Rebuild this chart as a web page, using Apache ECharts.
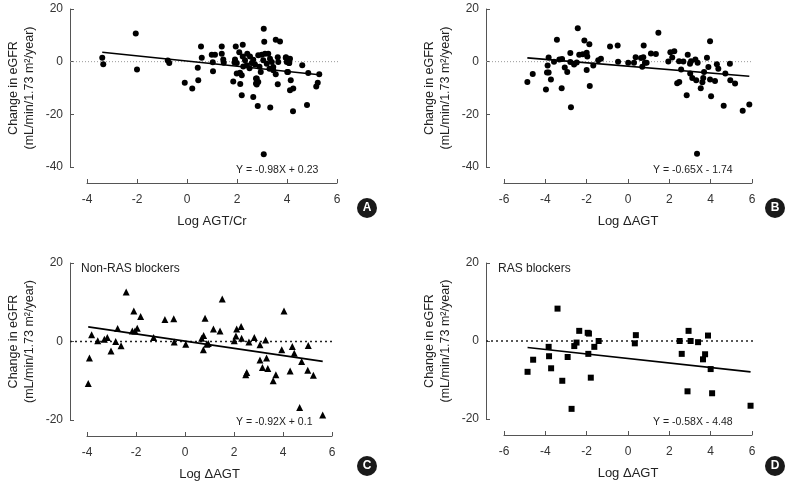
<!DOCTYPE html>
<html>
<head>
<meta charset="utf-8">
<script src="https://cdn.jsdelivr.net/npm/echarts@6/dist/echarts.min.js"></script>
<style>html,body{margin:0;padding:0;background:#fff}#c{width:792px;height:483px}</style>
</head>
<body>
<div id="c"></div>
<script>
// ---- Data ----
const ptsA = [
 [-3.39,1.5],[-3.35,-1.0],[-2.05,10.7],[-2.0,-3.0],[-0.77,0.4],[-0.71,-0.5],[-0.09,-8.0],[0.21,-10.2],
 [0.45,-7.1],[0.43,-2.3],[0.56,5.8],[0.59,1.5],[1.04,-3.6],[0.99,2.6],[1.12,2.6],[1.03,-0.2],
 [1.39,5.8],[1.39,3.0],[1.45,0.8],[1.47,-0.4],[1.95,5.8],[2.23,6.4],[2.09,3.6],[1.85,-7.5],
 [2.13,-8.5],[2.19,-12.8],[2.65,-13.4],[2.83,-16.8],[3.33,-17.4],[3.07,12.5],[3.09,7.6],[3.55,8.3],
 [3.72,7.7],[3.07,-35.2],[2.76,-6.4],[2.76,-8.3],[2.95,-3.9],[3.63,-8.6],[4.04,-3.9],[3.95,1.5],
 [4.08,-0.5],[4.15,-7.1],[4.12,-10.9],[4.25,-10.2],[4.24,-18.8],[4.8,-16.5],[4.61,-1.4],[4.85,-4.3],
 [5.29,-4.8],[5.23,-8.0],[5.17,-9.4],[1.92,0.8],[1.99,-0.5],[2.23,2.0],[2.32,0.5],[2.41,3.0],
 [2.52,2.0],[2.39,-1.4],[2.25,-1.8],[2.59,-0.5],[2.72,-1.1],[2.85,2.4],[2.99,2.6],[3.12,3.0],
 [3.25,3.0],[3.05,0.5],[3.19,-0.8],[3.39,-0.1],[3.32,1.1],[3.45,-2.0],[3.45,-3.3],[1.99,-4.5],
 [2.12,-4.2],[2.19,-5.2],[2.79,-6.4],[2.85,-7.7],[2.79,-8.7],[3.96,1.7],[4.09,-0.5],[3.99,-0.1],
 [4.12,1.1],[4.01,-3.9],[3.63,1.7],[3.65,-0.1],[2.5,-2.5],[2.9,-1.9],[3.3,-2.7],[2.65,0.7],[1.9,-0.3],[3.55,-4.8]
];
const ptsB = [
 [-4.87,-7.7],[-4.61,-4.7],[-3.97,-10.6],[-3.92,-4.1],[-3.84,-4.1],[-3.89,-1.5],[-3.84,1.6],[-3.73,-6.8],
 [-3.58,0.0],[-3.44,8.3],[-3.32,0.8],[-3.19,1.0],[-3.21,-10.1],[-3.06,-2.2],[-2.94,-3.9],[-2.79,-0.1],
 [-2.79,3.3],[-2.76,-17.3],[-2.61,-1.1],[-2.48,-0.3],[-2.43,12.7],[-2.36,2.6],[-2.19,2.8],[-2.11,8.0],
 [-2.0,3.4],[-1.97,2.0],[-2.0,-3.2],[-1.87,6.6],[-1.85,-9.2],[-1.68,-1.5],[-1.44,0.5],[-1.31,1.1],
 [-0.87,5.8],[-0.5,6.1],[-0.48,0.0],[0.01,-0.4],[0.29,-0.4],[0.37,1.7],[0.63,1.4],[0.74,1.7],
 [0.69,-1.9],[0.82,-0.4],[0.9,-0.4],[0.76,6.1],[1.11,3.1],[1.35,2.9],[1.47,11.0],[1.95,0.1],
 [2.05,3.6],[2.14,1.6],[2.24,4.0],[2.38,-8.2],[2.48,-7.7],[2.47,0.2],[2.57,-3.0],[2.68,0.1],
 [2.84,-12.8],[2.89,2.6],[3.0,-0.8],[3.05,0.2],[3.01,-4.5],[3.11,-6.2],[3.26,0.8],[3.3,-7.1],
 [3.37,-0.4],[3.34,-35.0],[3.52,-10.1],[3.6,-7.8],[3.68,-3.9],[3.64,-6.2],[3.82,1.5],[3.89,-2.0],
 [3.97,7.8],[3.97,-6.8],[4.02,-13.1],[4.21,-7.3],[4.3,-1.0],[4.37,-2.7],[4.63,-16.7],[4.71,-4.5],
 [4.93,-0.8],[4.95,-7.1],[5.18,-8.3],[5.55,-18.6],[5.87,-16.3]
];
const ptsC = [
 [-3.81,1.7],[-3.56,0.2],[-3.9,-4.2],[-3.95,-10.7],[-3.29,0.6],[-3.17,1.0],[-3.02,-2.4],[-2.83,0.0],
 [-2.61,-1.1],[-2.75,3.3],[-2.4,12.6],[-2.09,7.8],[-1.81,6.4],[-2.15,2.7],[-2.04,2.7],[-1.95,3.4],
 [-1.28,1.0],[-0.82,5.6],[-0.46,5.8],[-0.44,-0.1],[0.03,-0.7],[0.82,5.9],[0.68,0.8],[0.76,1.5],
 [0.75,-2.1],[0.89,-0.7],[1.52,10.8],[1.16,3.2],[1.43,2.7],[0.95,-0.5],[2.11,3.2],[2.29,3.8],
 [2.08,1.4],[2.01,0.2],[2.31,0.8],[2.61,-0.1],[2.83,1.0],[3.06,-0.8],[3.29,0.4],[4.04,7.8],
 [3.95,-2.1],[4.38,-1.3],[5.03,-1.0],[4.46,-3.0],[3.06,-4.7],[3.33,-4.2],[3.16,-6.6],[3.38,-6.9],
 [2.48,-8.5],[2.52,-7.9],[3.71,-8.5],[3.6,-10.0],[4.29,-7.5],[4.76,-5.1],[5.01,-7.3],[5.24,-8.6],
 [4.68,-16.8],[5.62,-18.7]
];
const ptsD = [
 [-4.86,-7.9],[-4.59,-4.8],[-3.84,-1.5],[-3.82,-3.9],[-3.72,-7.0],[-3.41,8.3],[-3.18,-10.2],[-2.92,-4.1],
 [-2.73,-17.4],[-2.6,-1.3],[-2.49,-0.4],[-2.36,2.6],[-1.95,2.1],[-1.89,1.9],[-1.92,-3.3],[-1.8,-9.4],
 [-1.63,-1.5],[-1.42,0.0],[0.38,1.5],[0.33,-0.6],[2.5,0.0],[2.6,-3.3],[2.88,-12.9],[2.93,2.6],
 [3.03,0.0],[3.39,-0.3],[3.63,-4.7],[3.73,-3.4],[3.87,1.4],[4.0,-7.2],[4.07,-13.4],[5.93,-16.6]
];
// regression line end points (as drawn)
const regA = [[-3.39,3.55],[5.29,-4.95]];
const regB = [[-4.87,1.43],[5.87,-5.56]];
const regC = [[-3.95,3.73],[5.62,-5.07]];
const regD = [[-4.86,-1.66],[5.93,-7.92]];
const eqA = 'Y = -0.98X + 0.23', eqB = 'Y = -0.65X - 1.74', eqC = 'Y = -0.92X + 0.1', eqD = 'Y = -0.58X - 4.48';
const xNameA = 'Log AGT/Cr', xNameB = 'Log \u0394AGT';
const yName = 'Change in eGFR\n(mL/min/1.73 m\u00B2/year)';
const groupC = 'Non-RAS blockers', groupD = 'RAS blockers';

const FONT = "'Liberation Sans Narrow','Arial Narrow','Liberation Sans',sans-serif";
const panels = [
 {g:{left:87,top:9,width:250,height:158}, zl:{left:70,width:268}, yOff:17, x:[-4,6], y:[-40,20], pts:ptsA, reg:regA, sym:'circle', size:6, xName:xNameA, zeroStyle:{color:'#999',width:1,type:[1,2]}},
 {g:{left:504,top:9,width:248,height:158}, zl:{left:486,width:266}, yOff:18, x:[-6,6], y:[-40,20], pts:ptsB, reg:regB, sym:'circle', size:6, xName:xNameB, zeroStyle:{color:'#999',width:1,type:[1,2]}},
 {g:{left:87,top:263,width:245,height:157}, zl:{left:70,width:265}, yOff:17, x:[-4,6], y:[-20,20], pts:ptsC, reg:regC, sym:'triangle', size:7, xName:xNameB, zeroStyle:{color:'#222',width:1.5,type:[2,3]}},
 {g:{left:504,top:263,width:248,height:156}, zl:{left:486,width:267}, yOff:18, x:[-6,6], y:[-20,20], pts:ptsD, reg:regD, sym:'rect', size:6, xName:xNameB, zeroStyle:{color:'#222',width:1.5,type:[2,3]}}
];

const grid=[], xAxis=[], yAxis=[], series=[];
const axisCol = '#555', txtCol = '#333';
panels.forEach((p,i)=>{
  grid.push(Object.assign({}, p.g));
  const gi = grid.length-1;
  xAxis.push({type:'value', gridIndex:gi, min:p.x[0], max:p.x[1], interval:2, offset:16,
    axisLine:{show:true,onZero:false,lineStyle:{color:axisCol,width:1}}, axisTick:{show:true,inside:true,length:4,lineStyle:{color:axisCol}},
    axisLabel:{color:txtCol,fontSize:12,fontFamily:FONT,margin:11}, splitLine:{show:false},
    name:p.xName, nameLocation:'middle', nameGap:32, nameTextStyle:{color:'#222',fontSize:13,fontFamily:FONT}});
  yAxis.push({type:'value', gridIndex:gi, min:p.y[0], max:p.y[1], interval:20, offset:p.yOff,
    axisLine:{show:true,onZero:false,lineStyle:{color:axisCol,width:1}}, axisTick:{show:true,inside:true,length:4,lineStyle:{color:axisCol}},
    axisLabel:{color:txtCol,fontSize:12,fontFamily:FONT,margin:7}, splitLine:{show:false},
    name:yName, nameLocation:'middle', nameGap:32, nameRotate:90,
    nameTextStyle:{color:'#222',fontSize:12.5,fontFamily:FONT,lineHeight:16,align:'center'}});
  grid.push({left:p.zl.left, top:p.g.top, width:p.zl.width, height:p.g.height});
  const zi = grid.length-1;
  xAxis.push({type:'value', gridIndex:zi, min:0, max:1, show:false});
  yAxis.push({type:'value', gridIndex:zi, min:p.y[0], max:p.y[1], show:false});
  series.push({type:'line', xAxisIndex:zi, yAxisIndex:zi, data:[[0,0],[1,0]], symbol:'none', silent:true,
    lineStyle:p.zeroStyle, z:1});
  series.push({type:'scatter', xAxisIndex:gi, yAxisIndex:gi, data:p.pts, symbol:p.sym, symbolSize:p.size,
    itemStyle:{color:'#000',opacity:1}, z:3});
  series.push({type:'line', xAxisIndex:gi, yAxisIndex:gi, data:p.reg, symbol:'none', silent:true,
    lineStyle:{color:'#000',width:1.6}, z:2});
});

const badge = (cx,cy,t)=>([
  {type:'circle', shape:{cx:cx,cy:cy,r:10}, style:{fill:'#1a1a1a'}},
  {type:'text', x:cx, y:cy, style:{text:t, fill:'#fff', font:"bold 12px 'Liberation Sans',sans-serif", align:'center', verticalAlign:'middle'}}
]);
const eqText = (x,y,t)=>({type:'text', x:x, y:y, style:{text:t, fill:'#222', font:"10.5px "+FONT, verticalAlign:'middle'}});
const graphic = [].concat(
  badge(367,208,'A'), badge(775,208,'B'), badge(367,466,'C'), badge(775,466,'D'),
  [eqText(236,170,eqA), eqText(653,170,eqB), eqText(236,422,eqC), eqText(653,422,eqD),
   {type:'text', x:81, y:269, style:{text:groupC, fill:'#222', font:"12px "+FONT, verticalAlign:'middle'}},
   {type:'text', x:498, y:269, style:{text:groupD, fill:'#222', font:"12px "+FONT, verticalAlign:'middle'}}]
);

const chart = echarts.init(document.getElementById('c'), null, {renderer:'canvas'});
chart.setOption({animation:false, backgroundColor:'#fff', grid, xAxis, yAxis, series, graphic});
</script>
</body>
</html>
